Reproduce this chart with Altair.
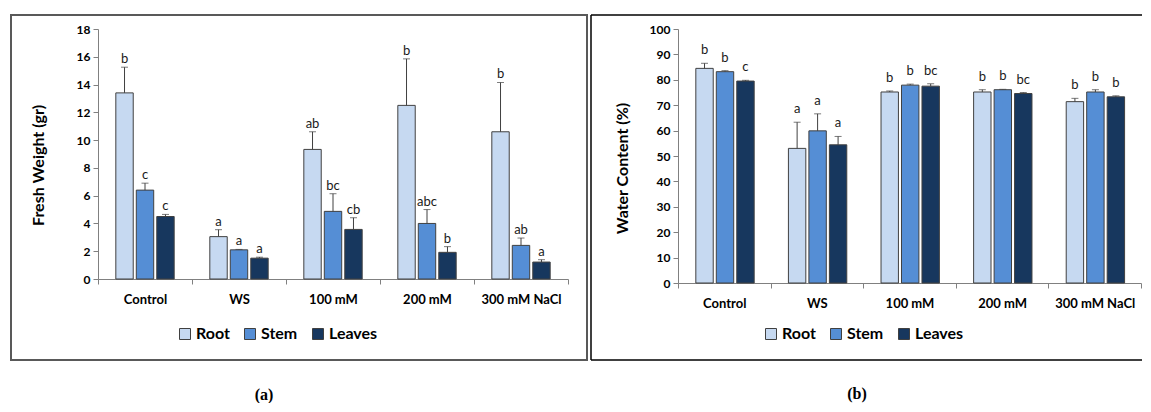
import altair as alt
import pandas as pd

categories = ["Control", "WS", "100 mM", "200 mM", "300 mM NaCl"]
organs = ["Root", "Stem", "Leaves"]
organ_colors = ["#c6d9f1", "#558ed5", "#17375e"]

# (a) Fresh weight (gr)
fw_root = [13.4, 3.05, 9.33, 12.5, 10.6]
fw_root_err = [1.85, 0.5, 1.27, 3.35, 3.55]
fw_stem = [6.4, 2.1, 4.87, 4.0, 2.42]
fw_stem_err = [0.5, 0.03, 1.27, 1.0, 0.53]
fw_leaves = [4.5, 1.5, 3.57, 1.92, 1.22]
fw_leaves_err = [0.15, 0.07, 0.84, 0.41, 0.17]
fw_root_lab = ["b", "a", "ab", "b", "b"]
fw_stem_lab = ["c", "a", "bc", "abc", "ab"]
fw_leaves_lab = ["c", "a", "cb", "b", "a"]

# (b) Water content (%)
wc_root = [84.5, 53.0, 75.2, 75.2, 71.4]
wc_root_err = [2.0, 10.3, 0.4, 0.9, 1.3]
wc_stem = [83.2, 59.9, 77.9, 76.1, 75.2]
wc_stem_err = [0.4, 6.7, 0.4, 0.15, 0.9]
wc_leaves = [79.5, 54.4, 77.5, 74.6, 73.3]
wc_leaves_err = [0.3, 3.3, 0.9, 0.4, 0.4]
wc_root_lab = ["b", "a", "b", "b", "b"]
wc_stem_lab = ["b", "a", "b", "b", "b"]
wc_leaves_lab = ["c", "a", "bc", "bc", "b"]

FONT = "Lato"
DARK = "#404040"
GREY = "#808080"


def make_df(series):
    rows = []
    for organ, vals, errs, labs in series:
        for c, v, e, l in zip(categories, vals, errs, labs):
            rows.append({"cat": c, "organ": organ, "value": v, "top": v + e, "label": l})
    return pd.DataFrame(rows)


def one():
    return alt.Chart(pd.DataFrame({"k": [0]}))


def panel(df, ytitle, ymax, ystep, w, h, label_dy, title_x, title_y,
          legend_x, legend_y, frame, caption, cap_x, cap_y):
    base = alt.Chart(df)
    x = alt.X("cat:N", sort=categories, title=None,
              scale=alt.Scale(paddingInner=0, paddingOuter=0),
              axis=alt.Axis(tickBand="extent", labelAngle=0))
    xo = alt.XOffset("organ:N", sort=organs,
                     scale=alt.Scale(paddingInner=0.15, paddingOuter=0.87))
    yscale = alt.Scale(domain=[0, ymax], nice=False)
    yaxis = alt.Axis(values=list(range(0, ymax + 1, ystep)), titleX=title_x,
                     titleY=title_y, titleBaseline="middle")
    color = alt.Color("organ:N", sort=organs,
                      scale=alt.Scale(domain=organs, range=organ_colors),
                      legend=alt.Legend(orient="none", legendX=legend_x, legendY=legend_y,
                                        direction="horizontal", title=None))
    bars = base.mark_bar(stroke=DARK, strokeWidth=1).encode(
        x=x, xOffset=xo,
        y=alt.Y("value:Q", scale=yscale, axis=yaxis, title=ytitle),
        color=color)
    err = base.mark_rule(color=DARK, strokeWidth=1).encode(
        x=x, xOffset=xo,
        y=alt.Y("value:Q", scale=yscale, axis=yaxis, title=ytitle),
        y2="top:Q")
    cap = base.mark_tick(color=DARK, thickness=1, size=7).encode(
        x=x, xOffset=xo,
        y=alt.Y("top:Q", scale=yscale, axis=yaxis, title=ytitle))
    txt = base.mark_text(dy=label_dy, baseline="alphabetic", fontSize=13,
                         font=FONT, color="#1a1a1a").encode(
        x=x, xOffset=xo,
        y=alt.Y("top:Q", scale=yscale, axis=yaxis, title=ytitle),
        text="label:N")
    cap_txt = one().mark_text(
        font="Liberation Serif", fontSize=16, fontWeight="bold", color="black").encode(
        x=alt.value(cap_x), y=alt.value(cap_y), text=alt.value(caption))
    return alt.layer(bars, err, cap, txt, *frame, cap_txt).properties(width=w, height=h)


df_a = make_df([("Root", fw_root, fw_root_err, fw_root_lab),
                ("Stem", fw_stem, fw_stem_err, fw_stem_lab),
                ("Leaves", fw_leaves, fw_leaves_err, fw_leaves_lab)])
df_b = make_df([("Root", wc_root, wc_root_err, wc_root_lab),
                ("Stem", wc_stem, wc_stem_err, wc_stem_lab),
                ("Leaves", wc_leaves, wc_leaves_err, wc_leaves_lab)])

# frame of panel (a): full box
frame_a = [one().mark_rect(fillOpacity=0, stroke="#595959", strokeWidth=2).encode(
    x=alt.value(-87), x2=alt.value(489), y=alt.value(-14), y2=alt.value(331))]
# frame of panel (b): right side is cut off in the figure
FB = dict(color="black", strokeWidth=1.5)
frame_b = [
    one().mark_rule(**FB).encode(x=alt.value(-87), x2=alt.value(464), y=alt.value(-14)),
    one().mark_rule(**FB).encode(x=alt.value(-87), x2=alt.value(464), y=alt.value(331)),
    one().mark_rule(**FB).encode(x=alt.value(-87), y=alt.value(-14), y2=alt.value(331)),
]

pa = panel(df_a, "Fresh Weight (gr)", 18, 2, 470, 250, -4, -60, 136,
           79, 297, frame_a, "(a)", 166, 366)
pb = panel(df_b, "Water Content (%)", 100, 10, 463, 254, -9, -56, 139,
           85, 297, frame_b, "(b)", 179, 365)

chart = alt.hconcat(pa, pb, spacing=2).resolve_scale(
    color="independent", y="independent").resolve_legend(color="independent").properties(
    padding={"left": 2, "top": 6, "right": 0, "bottom": 0}
).configure_view(stroke=None).configure_axisX(
    domainColor=GREY, tickColor=GREY, tickSize=5, labelFont=FONT, labelFontSize=13,
    labelFontWeight="bold", labelColor="black", labelPadding=9, grid=False
).configure_axisY(
    domainColor=GREY, tickColor=GREY, tickSize=5, labelFont=FONT, labelFontSize=12,
    labelFontWeight="bold", labelColor="black", labelPadding=3, grid=False,
    titleFont=FONT, titleFontSize=16, titleFontWeight="bold", titleColor="black"
).configure_legend(
    symbolType="square", symbolSize=121, symbolStrokeColor=DARK, symbolStrokeWidth=1,
    labelFont=FONT, labelFontSize=16, labelFontWeight="bold", labelColor="black",
    columnPadding=12, labelOffset=3, padding=0
)

chart.save("out.html", embed_options={"renderer": "svg", "actions": False})
